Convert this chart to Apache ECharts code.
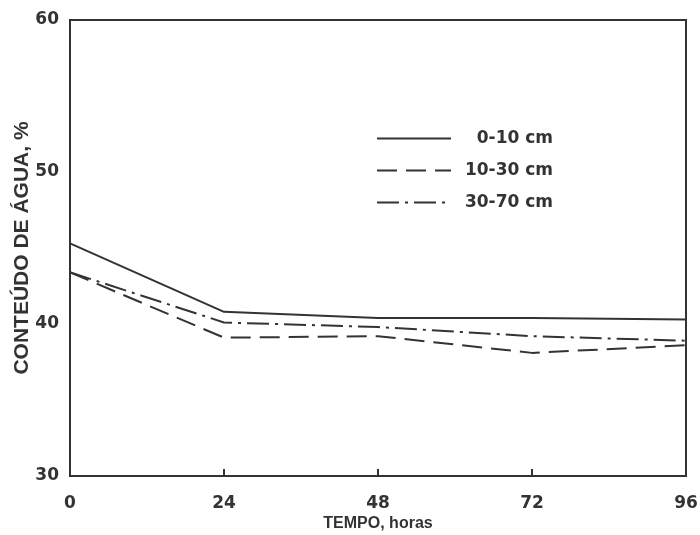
<!DOCTYPE html>
<html>
<head>
<meta charset="utf-8">
<script src="https://cdn.jsdelivr.net/npm/echarts@6/dist/echarts.min.js"></script>
<style>
  html, body { margin: 0; padding: 0; background: #ffffff; }
  #chart { width: 700px; height: 535px; }
</style>
</head>
<body>
<div id="chart"></div>
<script>
// tempo (horas)
var horas = ['0', '24', '48', '72', '96']
// conteúdo de água (%) por profundidade
var prof0a10 = [45.3, 40.8, 40.4, 40.4, 40.3]
var prof10a30 = [43.4, 39.1, 39.2, 38.1, 38.6]
var prof30a70 = [43.4, 40.1, 39.8, 39.2, 38.9]
var nomes = ['0-10 cm', '10-30 cm', '30-70 cm']

var cor = '#333333'
var fonte = 'Liberation Sans, Arial, sans-serif'
var fonteLarga = 'DejaVu Sans, sans-serif'

var myChart = echarts.init(document.getElementById('chart'))
var option = {
  animation: false,
  backgroundColor: '#ffffff',
  grid: {
    left: 70,
    right: 14,
    top: 20,
    bottom: 59,
    outerBoundsMode: 'none',
    containLabel: false,
    show: true,
    borderColor: cor,
    borderWidth: 2
  },
  legend: {
    orient: 'vertical',
    left: 371,
    top: 125,
    itemWidth: 74,
    itemHeight: 14,
    itemGap: 15,
    data: nomes,
    itemStyle: { opacity: 0 },
    formatter: '{a|{name}}',
    textStyle: {
      rich: {
        a: {
          color: cor,
          fontFamily: fonteLarga,
          fontWeight: 'bold',
          fontSize: 17,
          width: 97,
          align: 'right'
        }
      }
    }
  },
  xAxis: {
    type: 'category',
    data: horas,
    boundaryGap: false,
    name: 'TEMPO, horas',
    nameLocation: 'middle',
    nameGap: 40,
    nameMoveOverlap: false,
    nameTextStyle: { color: cor, fontFamily: fonte, fontWeight: 'bold', fontSize: 16 },
    axisLine: { lineStyle: { color: cor, width: 2 } },
    axisTick: { inside: true, length: 7, lineStyle: { color: cor, width: 2 } },
    axisLabel: { color: cor, fontFamily: fonteLarga, fontWeight: 'bold', fontSize: 17, margin: 19 },
    splitLine: { show: false }
  },
  yAxis: {
    type: 'value',
    min: 30,
    max: 60,
    interval: 10,
    name: 'CONTEÚDO DE ÁGUA, %',
    nameLocation: 'middle',
    nameGap: 37,
    nameMoveOverlap: false,
    nameTextStyle: { color: cor, fontFamily: fonte, fontWeight: 'bold', fontSize: 21 },
    axisLine: { show: true, lineStyle: { color: cor, width: 2 } },
    axisTick: { inside: true, length: 7, lineStyle: { color: cor, width: 2 } },
    axisLabel: { color: cor, fontFamily: fonteLarga, fontWeight: 'bold', fontSize: 17, margin: 11 },
    splitLine: { show: false }
  },
  series: [
    {
      name: nomes[0],
      type: 'line',
      data: prof0a10,
      symbol: 'none',
      lineStyle: { color: cor, width: 2 },
      itemStyle: { color: cor }
    },
    {
      name: nomes[1],
      type: 'line',
      data: prof10a30,
      symbol: 'none',
      lineStyle: { color: cor, width: 2, type: [20, 9] },
      itemStyle: { color: cor }
    },
    {
      name: nomes[2],
      type: 'line',
      data: prof30a70,
      symbol: 'none',
      lineStyle: { color: cor, width: 2, type: [22, 6, 3, 6] },
      itemStyle: { color: cor }
    }
  ]
}
myChart.setOption(option)
</script>
</body>
</html>
